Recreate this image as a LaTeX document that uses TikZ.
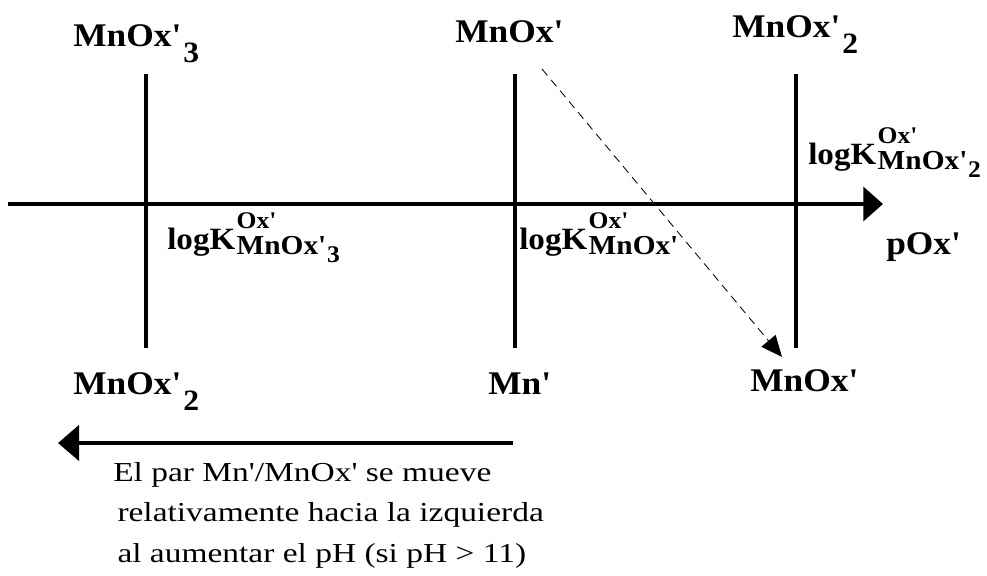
\documentclass[tikz,border=0pt]{standalone}
\usepackage{fontspec}
\setmainfont{Liberation Serif}[FakeStretch=1.07,Ligatures=TeXOff]
\newfontfamily\notefont{Liberation Serif}[FakeStretch=1.22,Ligatures=TeXOff]
\usetikzlibrary{arrows.meta,positioning}
\newcommand{\low}[1]{\hspace{1.5pt}\raisebox{-11pt}{\fontsize{21}{21}\selectfont #1}}
\newcommand{\lowk}[1]{\hspace{0.5pt}\raisebox{-6pt}{\fontsize{17}{17}\selectfont #1}}
\newcommand{\logk}[1]{logK\hspace{1pt}\rlap{\raisebox{15pt}{\fontsize{17}{17}\selectfont Ox'}}\raisebox{-3pt}{\fontsize{19.5}{20}\selectfont #1}}
\tikzset{
  axisarr/.style={line width=3pt,-{Triangle[length=14pt,width=24pt]}},
  pairline/.style={line width=3pt},
  shiftarr/.style={line width=3pt,-{Triangle[length=15pt,width=25pt]}},
  dasharr/.style={line width=0.6pt,dash pattern=on 6pt off 4pt,-{Triangle[length=15pt,width=13pt]}},
  spec/.style={font=\fontsize{23.5}{26}\selectfont\bfseries,inner sep=0pt,anchor=base west},
  klbl/.style={font=\fontsize{22}{24}\selectfont\bfseries,inner sep=0pt,anchor=base west},
  notetxt/.style={font=\notefont\fontsize{19.5}{29}\selectfont,inner sep=0pt,anchor=base west},
}
\begin{document}
\begin{tikzpicture}[x=0.025cm,y=-0.025cm]
  \useasboundingbox (0,0) rectangle (987,576);
  \node[spec] (t3) at (73,47) {MnOx'\low{3}};
  \node[spec] (t1) at (455,43) {MnOx'};
  \node[spec] (t2) at (732,38) {MnOx'\low{2}};
  \node[spec] (b2) at (73,395) {MnOx'\low{2}};
  \node[spec] (bmn) at (488,395) {Mn'};
  \node[spec] (b1) at (750,392) {MnOx'};
  \node[spec] (pox) at (886,255) {pOx'};
  \coordinate (ax0) at (8,204);
  \coordinate (ax1) at (883,204);
  \coordinate (v3a) at (146,74);
  \coordinate (v3b) at (146,348);
  \coordinate (v1a) at (515,74);
  \coordinate (v1b) at (515,348);
  \coordinate (v2a) at (796,74);
  \coordinate (v2b) at (796,348);
  \draw[pairline] (v3a) -- (v3b);
  \draw[pairline] (v1a) -- (v1b);
  \draw[pairline] (v2a) -- (v2b);
  \draw[axisarr] (ax0) -- (ax1);
  \node[klbl] (k3) at (167,250) {\logk{MnOx'\lowk{3}}};
  \node[klbl] (k1) at (519,250) {\logk{MnOx'}};
  \node[klbl] (k2) at (808,165) {\logk{MnOx'\lowk{2}}};
  \coordinate (ds) at (542,69);
  \coordinate (de) at (782,357);
  \draw[dasharr] (ds) -- (de);
  \coordinate (s0) at (513,443);
  \coordinate (s1) at (58,443);
  \draw[shiftarr] (s0) -- (s1);
  \node[notetxt] (note) at (113,481) {\begin{tabular}[t]{@{}l@{}}El par Mn'/MnOx' se mueve\\
    \hspace*{3pt}relativamente hacia la izquierda\\
    \hspace*{3pt}al aumentar el pH (si pH > 11)\end{tabular}};
\end{tikzpicture}
\end{document}
